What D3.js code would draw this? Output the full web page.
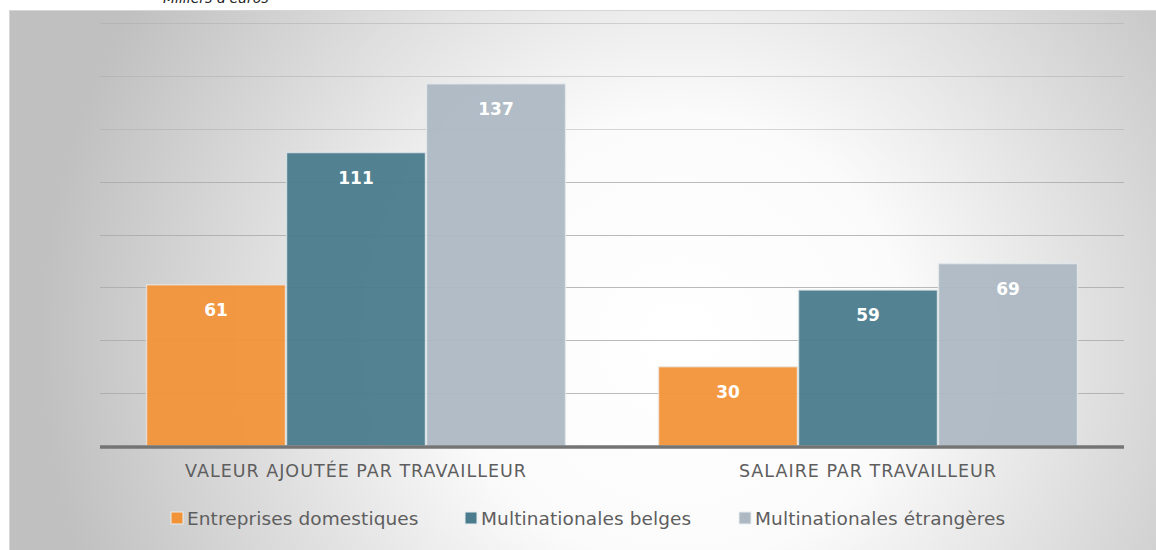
<!DOCTYPE html>
<html>
<head>
<meta charset="utf-8">
<script src="https://cdn.jsdelivr.net/npm/d3@7"></script>
<style>
  body { margin: 0; background: #fff; }
  svg { display: block; }
</style>
</head>
<body>
<script>
// data
const categories = ["VALEUR AJOUTÉE PAR TRAVAILLEUR", "SALAIRE PAR TRAVAILLEUR"];
const seriesNames = ["Entreprises domestiques", "Multinationales belges", "Multinationales étrangères"];
const domestiques = [61, 30];
const belges = [111, 59];
const etrangeres = [137, 69];
const gridTicks = [0, 20, 40, 60, 80, 100, 120, 140, 160];
const colors = ["#F39339", "#4A7C8D", "#ADB8C3"];

const W = 1156, H = 550;
const M = { t: 23, l: 100, r: 32, b: 104 };

const svg = d3.select("body").append("svg")
  .attr("width", W).attr("height", H);

const defs = svg.append("defs");
const grad = defs.append("radialGradient")
  .attr("id", "bg")
  .attr("gradientUnits", "userSpaceOnUse")
  .attr("cx", 680).attr("cy", 340).attr("r", 640);
grad.append("stop").attr("offset", "0%").attr("stop-color", "#ffffff");
grad.append("stop").attr("offset", "35%").attr("stop-color", "#fbfbfb");
grad.append("stop").attr("offset", "100%").attr("stop-color", "#c0c0c0");

// chart area background
svg.append("rect")
  .attr("x", 9.5).attr("y", 10.5)
  .attr("width", W).attr("height", H)
  .attr("fill", "url(#bg)")
  .attr("stroke", "#d6d6d6");

// title, mostly cut off at the top (as in the source)
svg.append("text")
  .attr("x", 163).attr("y", 3)
  .attr("font-family", "Tahoma, 'DejaVu Sans', sans-serif")
  .attr("font-style", "italic")
  .attr("font-size", 14)
  .attr("fill", "#222")
  .text("Milliers d'euros");

const g = svg.append("g").attr("transform", `translate(${M.l},${M.t})`);
const iw = W - M.l - M.r;
const ih = 446 - M.t;

const x0 = d3.scaleBand().domain(categories).range([0, iw]).paddingInner(0).paddingOuter(0);
const x1 = d3.scaleBand().domain(seriesNames).range([46, x0.bandwidth() - 46]).padding(0);
const y = d3.scaleLinear().domain([0, 160]).range([ih, 0]);

// gridlines
g.append("g").selectAll("line")
  .data(gridTicks.slice(1))
  .join("line")
  .attr("x1", 0).attr("x2", iw)
  .attr("y1", d => Math.round(y(d)) + 0.5).attr("y2", d => Math.round(y(d)) + 0.5)
  .attr("stroke", "#a9a9a9")
  .attr("stroke-opacity", d => d >= 120 ? 0.45 : 0.8)
  .attr("stroke-width", 1.2);

const rows = categories.map((c, i) => ({
  cat: c,
  vals: [domestiques[i], belges[i], etrangeres[i]]
}));

const groups = g.selectAll(".grp")
  .data(rows)
  .join("g")
  .attr("class", "grp")
  .attr("transform", d => `translate(${x0(d.cat)},0)`);

groups.selectAll("rect")
  .data(d => d.vals.map((v, j) => ({ name: seriesNames[j], v, j })))
  .join("rect")
  .attr("x", d => x1(d.name) + 0.5)
  .attr("width", x1.bandwidth() - 1)
  .attr("y", d => y(d.v))
  .attr("height", d => ih - y(d.v))
  .attr("fill", d => colors[d.j])
  .attr("fill-opacity", 0.95)
  .attr("stroke", "#e8edf0")
  .attr("stroke-opacity", 0.7)
  .attr("stroke-width", 1.5);

groups.selectAll("text.val")
  .data(d => d.vals.map((v, j) => ({ name: seriesNames[j], v, j })))
  .join("text")
  .attr("class", "val")
  .attr("x", d => x1(d.name) + x1.bandwidth() / 2)
  .attr("y", d => y(d.v) + 31)
  .attr("text-anchor", "middle")
  .attr("font-family", "'DejaVu Sans', sans-serif")
  .attr("font-weight", "bold")
  .attr("font-size", 17)
  .attr("fill", "#fff")
  .text(d => d.v);

// baseline
g.append("line")
  .attr("x1", 0).attr("x2", iw)
  .attr("y1", ih + 1).attr("y2", ih + 1)
  .attr("stroke", "#747474")
  .attr("stroke-width", 3.5);

// category labels
g.selectAll(".cat")
  .data(categories)
  .join("text")
  .attr("class", "cat")
  .attr("x", d => x0(d) + x0.bandwidth() / 2)
  .attr("y", ih + 31)
  .attr("text-anchor", "middle")
  .attr("font-family", "'DejaVu Sans', sans-serif")
  .attr("font-size", 17.5)
  .attr("letter-spacing", 1)
  .attr("fill", "#5e5e5e")
  .text(d => d);

// legend
const legendX = [171, 465, 739];
const lg = svg.append("g").selectAll("g")
  .data(seriesNames)
  .join("g")
  .attr("transform", (d, i) => `translate(${legendX[i]},512)`);
lg.append("rect")
  .attr("width", 12).attr("height", 12)
  .attr("fill", (d, i) => colors[i])
  .attr("stroke", "#e8edf0").attr("stroke-width", 1);
lg.append("text")
  .attr("x", 16).attr("y", 13)
  .attr("font-family", "'DejaVu Sans', sans-serif")
  .attr("font-size", 18.5)
  .attr("letter-spacing", 0.1)
  .attr("fill", "#5e5e5e")
  .text(d => d);
</script>
</body>
</html>
